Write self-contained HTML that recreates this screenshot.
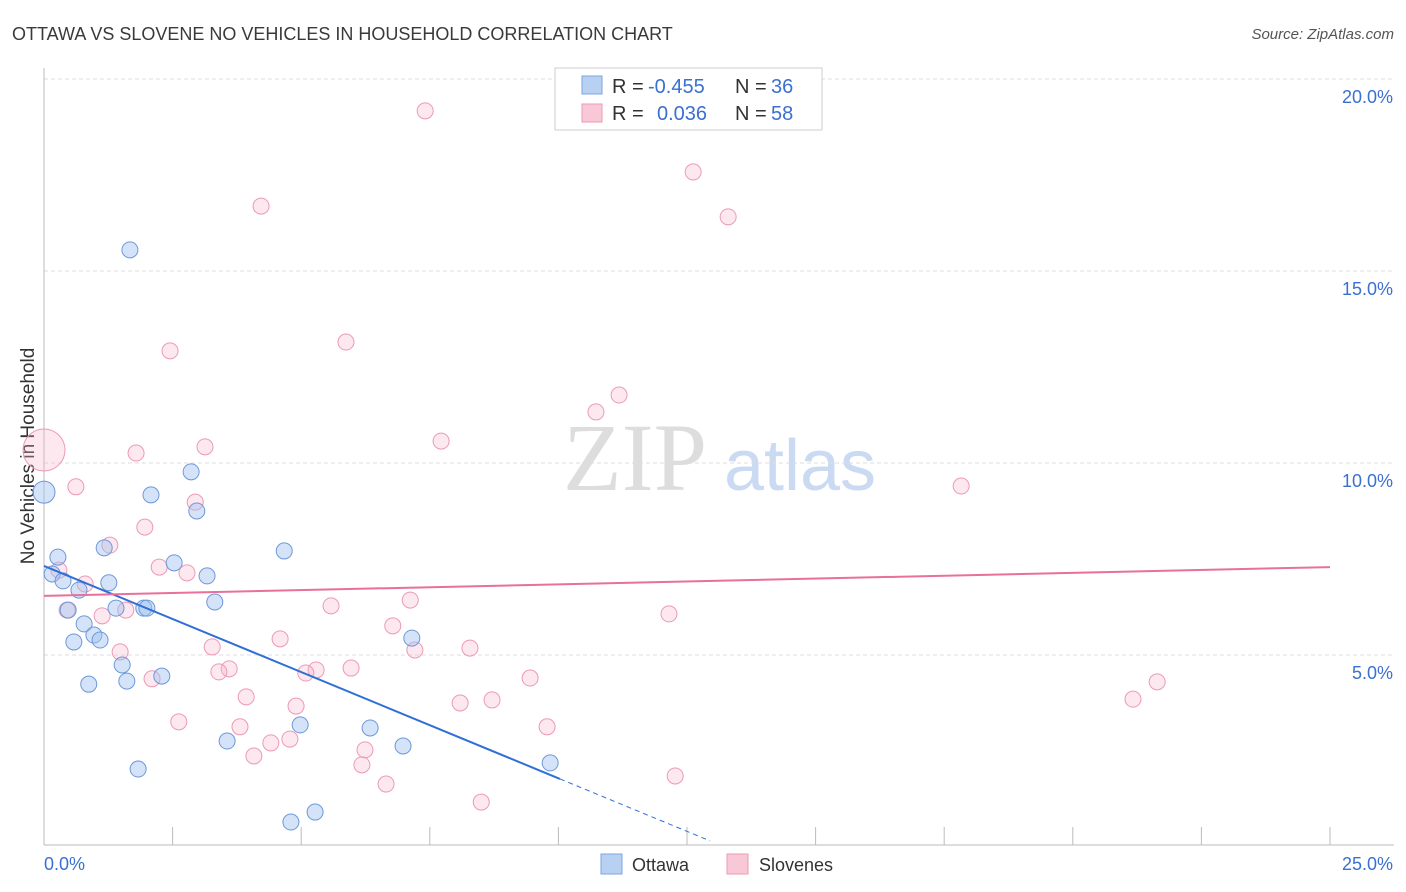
<!DOCTYPE html>
<html><head><meta charset="utf-8"><style>
body{margin:0;background:#fff;font-family:"Liberation Sans",sans-serif}
svg{display:block}
</style></head><body>
<svg id="chart" width="1406" height="892">
<text x="12" y="40" font-size="18" fill="#3a3a3a">OTTAWA VS SLOVENE NO VEHICLES IN HOUSEHOLD CORRELATION CHART</text>
<text x="1394" y="39" font-size="15" fill="#555" font-style="italic" text-anchor="end">Source: ZipAtlas.com</text>
<text transform="translate(34,456) rotate(-90)" font-size="19" fill="#333" text-anchor="middle">No Vehicles in Household</text>
<g><text x="635" y="490" font-size="96" fill="#ddd" font-family="Liberation Serif,serif" text-anchor="middle">ZIP</text><text x="800" y="490" font-size="72" fill="#c9daf2" text-anchor="middle">atlas</text></g>
<g id="grid"></g><g id="axes"></g><g id="marks"></g>
<g>
<rect x="555" y="68" width="267" height="62" fill="#fff" stroke="#ccc"/>
<rect x="582" y="76" width="20" height="18" fill="#b8d0f2" stroke="#7ea6e0"/>
<rect x="582" y="104" width="20" height="18" fill="#f8c8d6" stroke="#ec9ab5"/>
<text x="612" y="93" font-size="20" fill="#333">R = <tspan x="648" fill="#3a70d0">-0.455</tspan><tspan x="735">N = </tspan><tspan x="771" fill="#3a70d0">36</tspan></text>
<text x="612" y="120" font-size="20" fill="#333">R = <tspan x="657" fill="#3a70d0">0.036</tspan><tspan x="735">N = </tspan><tspan x="771" fill="#3a70d0">58</tspan></text>
</g>
<g>
<rect x="601" y="854" width="21" height="20" fill="#b8d0f2" stroke="#7ea6e0"/><text x="632" y="871" font-size="18" fill="#333">Ottawa</text>
<rect x="727" y="854" width="21" height="20" fill="#f8c8d6" stroke="#ec9ab5"/><text x="759" y="871" font-size="18" fill="#333">Slovenes</text>
</g>
</svg>
<script>
const yTicks=[5,10,15,20];
const yTickLabels=["5.0%","10.0%","15.0%","20.0%"];
const xTickLabels=["0.0%","25.0%"];
const ottawaX=[1.67,2.86,2.08,2.97,0,4.67,0.27,1.17,2.53,0.16,3.17,0.37,1.26,0.68,3.32,0.47,1.40,1.94,2.00,0.78,0.97,1.09,0.58,7.15,1.52,2.29,0.87,1.61,4.98,6.34,3.56,6.98,9.84,1.83,5.27,4.80];
const ottawaY=[15.55,9.77,9.17,8.75,9.24,7.71,7.55,7.79,7.40,7.11,7.06,6.93,6.88,6.69,6.38,6.17,6.22,6.22,6.22,5.81,5.52,5.39,5.34,5.44,4.74,4.45,4.24,4.32,3.18,3.10,2.76,2.63,2.19,2.03,0.91,0.65];
const slovX=[7.41,12.62,13.30,4.22,5.87,2.45,11.18,10.73,7.72,3.13,1.79,0,0.62,17.83,2.94,1.96,1.28,0.29,2.24,2.78,0.80,0.45,1.13,1.59,5.58,7.12,12.15,6.78,4.59,3.27,7.21,8.28,1.48,5.97,5.29,3.60,3.40,5.09,9.45,2.10,21.64,21.17,3.93,4.90,8.09,8.71,2.62,3.81,9.78,4.78,4.41,6.24,4.08,6.18,6.65,12.27,8.50];
const slovY=[19.17,17.58,16.41,16.69,13.15,12.92,11.77,11.33,10.57,10.42,10.26,10.34,9.38,9.40,8.98,8.33,7.86,7.21,7.29,7.14,6.85,6.17,6.02,6.17,6.28,6.43,6.07,5.76,5.42,5.21,5.13,5.18,5.08,4.66,4.61,4.64,4.56,4.53,4.40,4.38,4.30,3.85,3.91,3.67,3.75,3.83,3.26,3.13,3.13,2.81,2.71,2.53,2.37,2.14,1.64,1.85,1.17];
const ottawaTrend=[7.32,-0.553];
const slovTrend=[6.54,0.030];
const X=v=>44+v*51.44, Y=v=>847-v*38.4;
const NS="http://www.w3.org/2000/svg";
function mk(t,p,a){const e=document.createElementNS(NS,t);for(const k in a)e.setAttribute(k,a[k]);p.appendChild(e);return e;}
const grid=document.getElementById('grid'),axes=document.getElementById('axes'),marks=document.getElementById('marks');
yTicks.forEach((t,i)=>{
 const l=mk('line',grid,{x1:44,x2:1394,y1:Y(t),y2:Y(t),stroke:'#ddd','stroke-dasharray':'4,3'});
 
 
 const tx=mk('text',axes,{x:1393,y:Y(t)+24,'font-size':18,fill:'#3a70d0','text-anchor':'end'});tx.textContent=yTickLabels[i];
 
 
});
const tg=mk('line',grid,{x1:44,x2:1394,y1:79,y2:79,stroke:'#ddd','stroke-dasharray':'4,3'});
const ax=mk('line',axes,{x1:44,x2:1394,y1:845,y2:845,stroke:'#bbb'});


const ay=mk('line',axes,{x1:44,x2:44,y1:68,y2:845,stroke:'#bbb'});


for(let i=1;i<=10;i++){const t=mk('line',axes,{x1:X(i*2.5),x2:X(i*2.5),y1:827,y2:845,stroke:'#bbb'});
 
 }
const xl0=mk('text',axes,{x:44,y:870,'font-size':18,fill:'#3a70d0'});xl0.textContent=xTickLabels[0];


const xl1=mk('text',axes,{x:1393,y:870,'font-size':18,fill:'#3a70d0','text-anchor':'end'});xl1.textContent=xTickLabels[1];


function pts(xs,ys,fill,stroke,name){xs.forEach((x,i)=>{const big=x===0;
 const c=mk('circle',marks,{cx:X(x),cy:Y(ys[i]),r:big?(name==='slovenes-point'?21:11):8,fill,stroke,'stroke-width':1});
 
 });}
pts(slovX,slovY,'rgba(246,178,200,0.3)','#ec9ab5','slovenes-point');
pts(ottawaX,ottawaY,'rgba(160,194,240,0.45)','#6d98da','ottawa-point');
const tb=mk('line',marks,{x1:X(0),y1:Y(ottawaTrend[0]),x2:X(10.03),y2:Y(ottawaTrend[0]+ottawaTrend[1]*10.03),stroke:'#2f6fd6','stroke-width':2});


const td=mk('line',marks,{x1:X(10.03),y1:Y(ottawaTrend[0]+ottawaTrend[1]*10.03),x2:X(12.95),y2:Y(ottawaTrend[0]+ottawaTrend[1]*12.95),stroke:'#2f6fd6','stroke-width':1,'stroke-dasharray':'5,4'});


const tp=mk('line',marks,{x1:X(0),y1:Y(slovTrend[0]),x2:X(25),y2:Y(slovTrend[0]+slovTrend[1]*25),stroke:'#e8709a','stroke-width':2});


</script>
</body></html>
